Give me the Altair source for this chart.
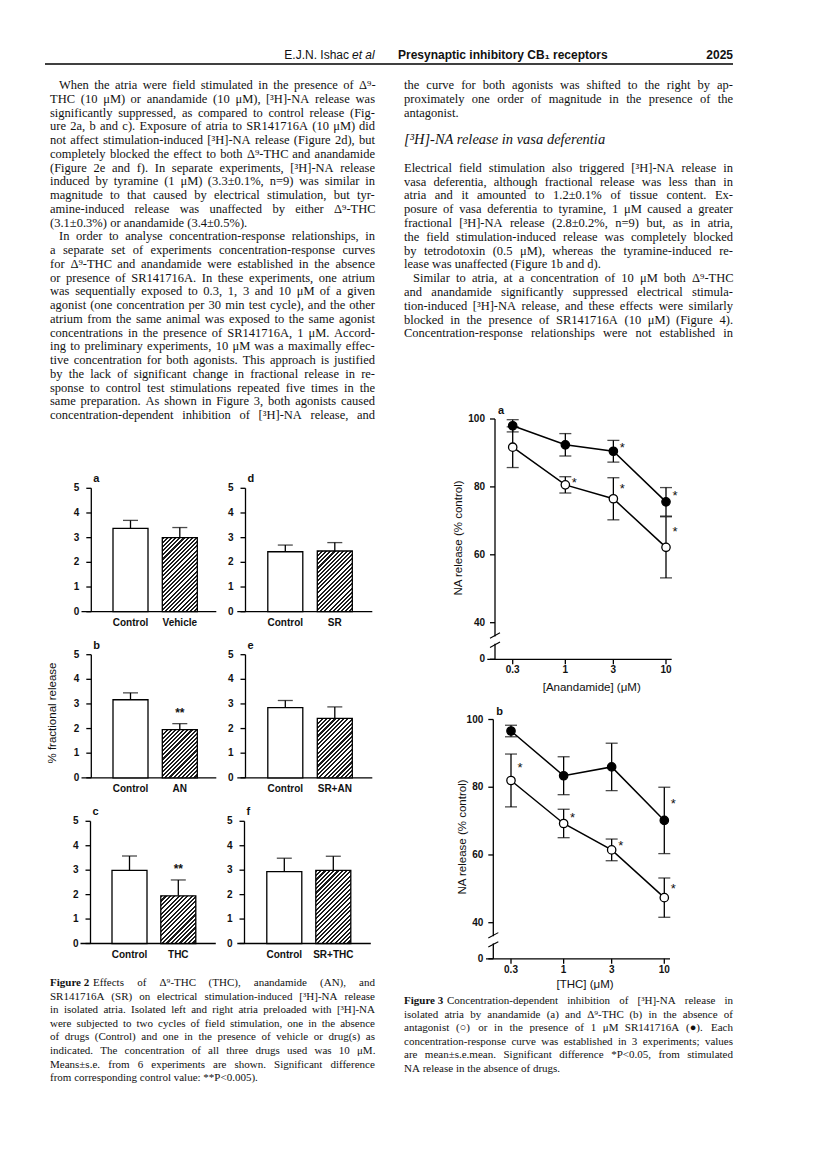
import altair as alt
import numpy as np
import pandas as pd

# ---------------- Figure 2 data (% fractional release, mean, s.e.) ----------------
fig2_a_labels = ["Control", "Vehicle"]
fig2_a_means = [3.38, 3.00]
fig2_a_sems = [0.32, 0.41]
fig2_a_marks = ["", ""]

fig2_b_labels = ["Control", "AN"]
fig2_b_means = [3.17, 1.96]
fig2_b_sems = [0.28, 0.24]
fig2_b_marks = ["", "**"]

fig2_c_labels = ["Control", "THC"]
fig2_c_means = [2.99, 1.95]
fig2_c_sems = [0.59, 0.65]
fig2_c_marks = ["", "**"]

fig2_d_labels = ["Control", "SR"]
fig2_d_means = [2.43, 2.46]
fig2_d_sems = [0.27, 0.34]
fig2_d_marks = ["", ""]

fig2_e_labels = ["Control", "SR+AN"]
fig2_e_means = [2.85, 2.41]
fig2_e_sems = [0.29, 0.47]
fig2_e_marks = ["", ""]

fig2_f_labels = ["Control", "SR+THC"]
fig2_f_means = [2.94, 2.99]
fig2_f_sems = [0.55, 0.58]
fig2_f_marks = ["", ""]

fig2_ticks = [0, 1, 2, 3, 4, 5]

# ---------------- Figure 3 data (NA release, % control) ----------------
fig3_conc = [0.3, 1, 3, 10]
fig3_conc_ticks = [0.3, 1, 3, 10]
fig3_conc_labels = ["0.3", "1", "3", "10"]
fig3_y_ticks = [0, 40, 60, 80, 100]

fig3a_open = [91.7, 80.6, 76.5, 62.2]
fig3a_open_sem = [6.0, 2.4, 6.2, 9.0]
fig3a_open_sig = [False, True, True, True]
fig3a_filled = [98.0, 92.4, 90.5, 75.6]
fig3a_filled_sem = [1.8, 3.3, 3.2, 4.2]
fig3a_filled_sig = [False, False, True, True]

fig3b_open = [82.0, 69.3, 61.5, 47.4]
fig3b_open_sem = [7.8, 4.2, 3.2, 5.8]
fig3b_open_sig = [True, True, True, True]
fig3b_filled = [96.6, 83.4, 86.0, 70.2]
fig3b_filled_sem = [1.7, 5.6, 7.0, 9.8]
fig3b_filled_sig = [False, False, False, True]

# ---------------- page text ----------------
header_left = "E.J.N. Ishac"
header_left_it = "et al"
header_mid = "Presynaptic inhibitory CB\u2081 receptors"
header_right = "2025"

left_text = [
    "When the atria were field stimulated in the presence of \u0394\u2079-",
    "THC (10 \u03bcM) or anandamide (10 \u03bcM), [\u00b3H]-NA release was",
    "significantly suppressed, as compared to control release (Fig-",
    "ure 2a, b and c). Exposure of atria to SR141716A (10 \u03bcM) did",
    "not affect stimulation-induced [\u00b3H]-NA release (Figure 2d), but",
    "completely blocked the effect to both \u0394\u2079-THC and anandamide",
    "(Figure 2e and f). In separate experiments, [\u00b3H]-NA release",
    "induced by tyramine (1 \u03bcM) (3.3\u00b10.1%, n=9) was similar in",
    "magnitude to that caused by electrical stimulation, but tyr-",
    "amine-induced release was unaffected by either \u0394\u2079-THC",
    "(3.1\u00b10.3%) or anandamide (3.4\u00b10.5%).",
    "In order to analyse concentration-response relationships, in",
    "a separate set of experiments concentration-response curves",
    "for \u0394\u2079-THC and anandamide were established in the absence",
    "or presence of SR141716A. In these experiments, one atrium",
    "was sequentially exposed to 0.3, 1, 3 and 10 \u03bcM of a given",
    "agonist (one concentration per 30 min test cycle), and the other",
    "atrium from the same animal was exposed to the same agonist",
    "concentrations in the presence of SR141716A, 1 \u03bcM. Accord-",
    "ing to preliminary experiments, 10 \u03bcM was a maximally effec-",
    "tive concentration for both agonists. This approach is justified",
    "by the lack of significant change in fractional release in re-",
    "sponse to control test stimulations repeated five times in the",
    "same preparation. As shown in Figure 3, both agonists caused",
    "concentration-dependent inhibition of [\u00b3H]-NA release, and",
]
left_indent_lines = [0, 11]
left_last_lines = [10]

right_text_top = [
    "the curve for both agonists was shifted to the right by ap-",
    "proximately one order of magnitude in the presence of the",
    "antagonist.",
]
right_top_last_lines = [2]
right_heading = "[\u00b3H]-NA release in vasa deferentia"
right_text = [
    "Electrical field stimulation also triggered [\u00b3H]-NA release in",
    "vasa deferentia, although fractional release was less than in",
    "atria and it amounted to 1.2\u00b10.1% of tissue content. Ex-",
    "posure of vasa deferentia to tyramine, 1 \u03bcM caused a greater",
    "fractional [\u00b3H]-NA release (2.8\u00b10.2%, n=9) but, as in atria,",
    "the field stimulation-induced release was completely blocked",
    "by tetrodotoxin (0.5 \u03bcM), whereas the tyramine-induced re-",
    "lease was unaffected (Figure 1b and d).",
    "Similar to atria, at a concentration of 10 \u03bcM both \u0394\u2079-THC",
    "and anandamide significantly suppressed electrical stimula-",
    "tion-induced [\u00b3H]-NA release, and these effects were similarly",
    "blocked in the presence of SR141716A (10 \u03bcM) (Figure 4).",
    "Concentration-response relationships were not established in",
]
right_indent_lines = [8]
right_last_lines = [7]

fig2_caption_label = "Figure 2"
fig2_caption = [
    "Effects of \u0394\u2079-THC (THC), anandamide (AN), and",
    "SR141716A (SR) on electrical stimulation-induced [\u00b3H]-NA release",
    "in isolated atria. Isolated left and right atria preloaded with [\u00b3H]-NA",
    "were subjected to two cycles of field stimulation, one in the absence",
    "of drugs (Control) and one in the presence of vehicle or drug(s) as",
    "indicated. The concentration of all three drugs used was 10 \u03bcM.",
    "Means\u00b1s.e. from 6 experiments are shown. Significant difference",
    "from corresponding control value: **P<0.005).",
]
fig3_caption_label = "Figure 3"
fig3_caption = [
    "Concentration-dependent inhibition of [\u00b3H]-NA release in",
    "isolated atria by anandamide (a) and \u0394\u2079-THC (b) in the absence of",
    "antagonist (\u25cb) or in the presence of 1 \u03bcM SR141716A (\u25cf). Each",
    "concentration-response curve was established in 3 experiments; values",
    "are mean\u00b1s.e.mean. Significant difference *P<0.05, from stimulated",
    "NA release in the absence of drugs.",
]
fig2_ytitle = "% fractional release"
fig3_ytitle = "NA release (% control)"
fig3a_xtitle = "[Anandamide] (\u03bcM)"
fig3b_xtitle = "[THC] (\u03bcM)"

# ---------------- layout / style ----------------
W, H = 800, 1141
M = 8
SERIF = "Liberation Serif, Times New Roman, serif"
SANS = "Liberation Sans, Arial, sans-serif"
NARROW = "Liberation Sans Narrow, Liberation Sans, Arial, sans-serif"
INK = "#111111"
LW = 1.3
BAR_W = 35

# Times / Liberation Serif advance widths (per 1000 em), used to justify text lines
_TW = {" ": 250, "!": 333, '"': 408, "#": 500, "$": 500, "%": 833, "&": 778, "'": 180, "(": 333,
       ")": 333, "*": 500, "+": 564, ",": 250, "-": 333, ".": 250, "/": 278, ":": 278, ";": 278,
       "<": 564, "=": 564, ">": 564, "?": 444, "[": 333, "]": 333,
       "A": 722, "B": 667, "C": 667, "D": 722, "E": 611, "F": 556, "G": 722, "H": 722, "I": 333,
       "J": 389, "K": 722, "L": 611, "M": 889, "N": 722, "O": 722, "P": 556, "Q": 722, "R": 667,
       "S": 556, "T": 611, "U": 722, "V": 722, "W": 944, "X": 722, "Y": 722, "Z": 611,
       "a": 444, "b": 500, "c": 444, "d": 500, "e": 444, "f": 333, "g": 500, "h": 500, "i": 278,
       "j": 278, "k": 500, "l": 278, "m": 778, "n": 500, "o": 500, "p": 500, "q": 500, "r": 333,
       "s": 389, "t": 278, "u": 500, "v": 500, "w": 722, "x": 500, "y": 500, "z": 444,
       "\u0394": 612, "\u03bc": 500, "\u00b1": 564, "\u00b3": 300, "\u2079": 330,
       "\u25cb": 750, "\u25cf": 750}
for _d in "0123456789":
    _TW[_d] = 500


def px(v):
    return v - M


def tw(s, size):
    return sum(_TW.get(ch, 500) for ch in s) * size / 1000.0


def justified_rows(lines, x0, x1, y0, dy, size, indent_lines=(), indent=9, last_lines=(),
                   first_offset=0.0):
    rows = []
    for i, line in enumerate(lines):
        start = x0 + (indent if i in indent_lines else 0) + (first_offset if i == 0 else 0)
        words = line.split(" ")
        widths = [tw(w, size) for w in words]
        space = tw(" ", size)
        if i in last_lines or i == len(lines) - 1 and last_lines == "all_but_last" or len(words) == 1:
            gap = space
        else:
            gap = (x1 - start - sum(widths)) / (len(words) - 1)
            gap = max(gap, 0.6 * space)
        x = start
        for w, wd in zip(words, widths):
            rows.append((px(x), px(y0 + i * dy), w))
            x += wd + gap
    return rows


def text_layer(rows, **kw):
    df = pd.DataFrame(rows, columns=["x", "y", "t"])
    base = dict(baseline="middle", color=INK)
    base.update(kw)
    return alt.Chart(df).mark_text(**base).encode(
        x=alt.X("x:Q", scale=None),
        y=alt.Y("y:Q", scale=None),
        text="t:N",
    )


def hatch(w, h, period=3.0, frac=0.5, dark="#1c1c1c", light="#ffffff"):
    k = (w + h) / (w * w + h * h)
    n = max(1, int(round((w + h) / (period * np.sqrt(2)))))
    stops = []
    for i in range(n):
        s, m, e = i / n, (i + frac) / n, (i + 1) / n
        stops += [
            alt.GradientStop(color=dark, offset=s),
            alt.GradientStop(color=dark, offset=m),
            alt.GradientStop(color=light, offset=m),
            alt.GradientStop(color=light, offset=e),
        ]
    return alt.LinearGradient(gradient="linear", stops=stops, x1=0, y1=0, x2=k * w, y2=k * h)


def bar_panel(letter, labels, means, sems, marks, ax_x, x_lo, x_hi, c1, c2, y_top, y_bot):
    df = pd.DataFrame({
        "cat": labels,
        "val": means,
        "top": [m + s for m, s in zip(means, sems)],
        "mark": marks,
    })
    step = c2 - c1
    span = x_hi - x_lo
    outer = span - 2 * step
    xs = alt.Scale(domain=labels, range=[px(x_lo), px(x_hi)], paddingInner=0,
                   paddingOuter=outer / (2 * step), align=(c1 - step / 2 - x_lo) / outer)
    ys = alt.Scale(domain=[0, 5], range=[px(y_bot), px(y_top)], nice=False, zero=False)
    XC = alt.X("cat:N", scale=xs, axis=None)
    base = alt.Chart(df)

    ticks_df = pd.DataFrame({"tick": fig2_ticks, "lab": [str(t) for t in fig2_ticks]})
    axis_df = pd.DataFrame({"lo": [fig2_ticks[0]], "hi": [fig2_ticks[-1]]})
    y_dom = alt.Chart(axis_df).mark_rule(color="black", strokeWidth=LW).encode(
        x=alt.value(px(ax_x)), y=alt.Y("lo:Q", scale=ys, axis=None), y2="hi:Q")
    x_dom = alt.Chart(axis_df).mark_rule(color="black", strokeWidth=LW).encode(
        x=alt.value(px(x_lo)), x2=alt.value(px(x_hi)), y=alt.Y("lo:Q", scale=ys, axis=None))
    y_tk = alt.Chart(ticks_df).mark_rule(color="black", strokeWidth=LW).encode(
        x=alt.value(px(ax_x) - 5), x2=alt.value(px(ax_x)), y=alt.Y("tick:Q", scale=ys, axis=None))
    y_lab = alt.Chart(ticks_df).mark_text(font=SANS, fontSize=10, fontWeight="bold", color=INK,
                                          align="right", baseline="middle").encode(
        x=alt.value(px(ax_x) - 12), y=alt.Y("tick:Q", scale=ys, axis=None), text="lab:N")
    x_lab = base.mark_text(font=SANS, fontSize=10, fontWeight="bold", color=INK,
                           align="center", baseline="middle").encode(
        x=XC, y=alt.value(px(y_bot) + 11), text="cat:N")

    ctrl = base.transform_filter(alt.datum.cat == labels[0]).mark_bar(
        width=BAR_W, fill="white", stroke="black", strokeWidth=LW
    ).encode(x=XC, y=alt.Y("val:Q", scale=ys, axis=None))
    h_px = means[1] * (y_bot - y_top) / 5.0
    drug = base.transform_filter(alt.datum.cat == labels[1]).mark_bar(
        width=BAR_W, fill=hatch(BAR_W, h_px), stroke="black", strokeWidth=LW
    ).encode(x=XC, y=alt.Y("val:Q", scale=ys, axis=None))
    err = base.mark_rule(color="black", strokeWidth=LW).encode(
        x=XC, y=alt.Y("val:Q", scale=ys, axis=None), y2="top:Q")
    cap = base.mark_tick(orient="horizontal", size=15, thickness=LW, color="black").encode(
        x=XC, y=alt.Y("top:Q", scale=ys, axis=None))
    star = base.mark_text(font=SANS, fontSize=12, fontWeight="bold", color=INK, dy=-11,
                          baseline="middle").encode(
        x=XC, y=alt.Y("top:Q", scale=ys, axis=None), text="mark:N")
    lab = alt.Chart(pd.DataFrame({"t": [letter]})).mark_text(
        font=SANS, fontSize=11, fontWeight="bold", color=INK, align="left", baseline="middle"
    ).encode(x=alt.value(px(ax_x + 2)), y=alt.value(px(y_top - 9)), text="t:N")
    return alt.layer(y_dom, x_dom, y_tk, y_lab, x_lab, err, cap, ctrl, drug, star, lab)


def dose_panel(letter, opn, opn_sem, opn_sig, fil, fil_sem, fil_sig,
               ax_x, x_lo, x03, x10, x_hi, y0, y40, y100):
    rows = []
    for s, m, e, g in (("open", opn, opn_sem, opn_sig), ("filled", fil, fil_sem, fil_sig)):
        for c, mm, ee, gg in zip(fig3_conc, m, e, g):
            rows.append({"conc": c, "val": mm, "lo": mm - ee, "hi": mm + ee, "series": s,
                         "star": "*" if gg else "", "sy": mm + 0.6 * ee})
    df = pd.DataFrame(rows)
    dec = (x10 - x03) / (1 - np.log10(0.3))
    d0 = 10 ** (np.log10(0.3) - (x03 - x_lo) / dec)
    d1 = 10 ** (1 + (x_hi - x10) / dec)
    xs = alt.Scale(type="log", domain=[d0, d1], range=[px(x_lo), px(x_hi)], nice=False)
    ys = alt.Scale(domain=[0, 40, 100], range=[px(y0), px(y40), px(y100)], nice=False, zero=False)
    X = alt.X("conc:Q", scale=xs, axis=None)
    base = alt.Chart(df)

    yt_df = pd.DataFrame({"tick": fig3_y_ticks, "lab": [str(t) for t in fig3_y_ticks]})
    xt_df = pd.DataFrame({"tick": fig3_conc_ticks, "lab": fig3_conc_labels})
    axis_df = pd.DataFrame({"lo": [fig3_y_ticks[0]], "hi": [fig3_y_ticks[-1]]})
    y_dom = alt.Chart(axis_df).mark_rule(color="black", strokeWidth=LW).encode(
        x=alt.value(px(ax_x)), y=alt.Y("lo:Q", scale=ys, axis=None), y2="hi:Q")
    x_dom = alt.Chart(axis_df).mark_rule(color="black", strokeWidth=LW).encode(
        x=alt.value(px(x_lo)), x2=alt.value(px(x_hi)), y=alt.Y("lo:Q", scale=ys, axis=None))
    y_tk = alt.Chart(yt_df).mark_rule(color="black", strokeWidth=LW).encode(
        x=alt.value(px(ax_x) - 5), x2=alt.value(px(ax_x)), y=alt.Y("tick:Q", scale=ys, axis=None))
    y_lab = alt.Chart(yt_df).mark_text(font=SANS, fontSize=10, fontWeight="bold", color=INK,
                                       align="right", baseline="middle").encode(
        x=alt.value(px(ax_x) - 10), y=alt.Y("tick:Q", scale=ys, axis=None), text="lab:N")
    x_tk = alt.Chart(xt_df).mark_rule(color="black", strokeWidth=LW).encode(
        x=alt.X("tick:Q", scale=xs, axis=None), y=alt.value(px(y0)), y2=alt.value(px(y0) + 5))
    x_lab = alt.Chart(xt_df).mark_text(font=SANS, fontSize=10, fontWeight="bold", color=INK,
                                       align="center", baseline="middle").encode(
        x=alt.X("tick:Q", scale=xs, axis=None), y=alt.value(px(y0) + 11), text="lab:N")

    line = base.mark_line(color="black", strokeWidth=1.5).encode(
        x=X, y=alt.Y("val:Q", scale=ys, axis=None), detail="series:N")
    err = base.mark_rule(color="black", strokeWidth=LW).encode(
        x=X, y=alt.Y("lo:Q", scale=ys, axis=None), y2="hi:Q")
    cap_hi = base.mark_tick(orient="horizontal", size=12, thickness=LW, color="black").encode(
        x=X, y=alt.Y("hi:Q", scale=ys, axis=None))
    cap_lo = base.mark_tick(orient="horizontal", size=12, thickness=LW, color="black").encode(
        x=X, y=alt.Y("lo:Q", scale=ys, axis=None))
    pts = base.mark_point(shape="circle", filled=True, size=70, stroke="black",
                          strokeWidth=1.3, opacity=1).encode(
        x=X, y=alt.Y("val:Q", scale=ys, axis=None),
        fill=alt.Fill("series:N", scale=alt.Scale(domain=["open", "filled"], range=["white", "black"]),
                      legend=None))
    star = base.mark_text(font=SANS, fontSize=13, color=INK, dx=9, dy=3, baseline="middle").encode(
        x=X, y=alt.Y("sy:Q", scale=ys, axis=None), text="star:N")
    brk = pd.DataFrame({"g0": [17.0], "g1": [25.0], "s0a": [13.0], "s0b": [19.0],
                        "s1a": [23.0], "s1b": [29.0]})
    gap = alt.Chart(brk).mark_rect(fill="white").encode(
        x=alt.value(px(ax_x) - 3), x2=alt.value(px(ax_x) + 3),
        y=alt.Y("g0:Q", scale=ys, axis=None), y2="g1:Q")
    sl1 = alt.Chart(brk).mark_rule(color="black", strokeWidth=1.1).encode(
        x=alt.value(px(ax_x) - 5), x2=alt.value(px(ax_x) + 5),
        y=alt.Y("s0a:Q", scale=ys, axis=None), y2="s0b:Q")
    sl2 = alt.Chart(brk).mark_rule(color="black", strokeWidth=1.1).encode(
        x=alt.value(px(ax_x) - 5), x2=alt.value(px(ax_x) + 5),
        y=alt.Y("s1a:Q", scale=ys, axis=None), y2="s1b:Q")
    lab = alt.Chart(pd.DataFrame({"t": [letter]})).mark_text(
        font=SANS, fontSize=11, fontWeight="bold", color=INK, align="left", baseline="middle"
    ).encode(x=alt.value(px(ax_x + 3)), y=alt.value(px(y100 - 8)), text="t:N")
    return alt.layer(y_dom, x_dom, y_tk, y_lab, x_tk, x_lab, line, err, cap_hi, cap_lo, pts,
                     star, gap, sl1, sl2, lab)


# ---------------- Figure 2 panels ----------------
L_AX, R_AX = 91.3, 245.5
L_LO, L_HI, L_C1, L_C2 = 81.5, 216.3, 130.5, 179.8
R_LO, R_HI, R_C1, R_C2 = 237.3, 372.3, 285.3, 334.8
ROWS = [(488.3, 611.7), (654.7, 777.8), (821.3, 943.5)]

panels = [
    bar_panel("a", fig2_a_labels, fig2_a_means, fig2_a_sems, fig2_a_marks, L_AX, L_LO, L_HI, L_C1, L_C2, *ROWS[0]),
    bar_panel("b", fig2_b_labels, fig2_b_means, fig2_b_sems, fig2_b_marks, L_AX, L_LO, L_HI, L_C1, L_C2, *ROWS[1]),
    bar_panel("c", fig2_c_labels, fig2_c_means, fig2_c_sems, fig2_c_marks, L_AX - 0.8, L_LO - 1, L_HI - 0.5, L_C1 - 1, L_C2 - 1.5, *ROWS[2]),
    bar_panel("d", fig2_d_labels, fig2_d_means, fig2_d_sems, fig2_d_marks, R_AX, R_LO, R_HI, R_C1, R_C2, *ROWS[0]),
    bar_panel("e", fig2_e_labels, fig2_e_means, fig2_e_sems, fig2_e_marks, R_AX, R_LO, R_HI, R_C1, R_C2, *ROWS[1]),
    bar_panel("f", fig2_f_labels, fig2_f_means, fig2_f_sems, fig2_f_marks, R_AX - 1, R_LO, R_HI - 1.5, R_C1 - 1, R_C2 - 1.5, *ROWS[2]),
    dose_panel("a", fig3a_open, fig3a_open_sem, fig3a_open_sig, fig3a_filled, fig3a_filled_sem,
               fig3a_filled_sig, 495.0, 487.3, 512.7, 666.0, 671.7, 659.3, 622.7, 419.0),
    dose_panel("b", fig3b_open, fig3b_open_sem, fig3b_open_sig, fig3b_filled, fig3b_filled_sem,
               fig3b_filled_sig, 493.3, 486.0, 511.0, 664.3, 670.0, 958.8, 922.7, 719.5),
]

# ---------------- text layers ----------------
LX0, LX1 = 50, 375
RX0, RX1 = 404, 733
BODY = 12.5
L_Y0, L_DY = 85.0, 13.75
R_Y0, R_DY = 85.0, 13.8
R_BODY_Y0 = 167.7

body_rows = []
body_rows += justified_rows(left_text, LX0, LX1, L_Y0, L_DY, BODY, left_indent_lines, 9, left_last_lines)
body_rows += justified_rows(right_text_top, RX0, RX1, R_Y0, R_DY, BODY, (), 9, right_top_last_lines)
body_rows += justified_rows(right_text, RX0, RX1, R_BODY_Y0, R_DY, BODY, right_indent_lines, 9,
                            right_last_lines)
body = text_layer(body_rows, font=SERIF, fontSize=BODY, align="left")

heading = text_layer([(px(RX0), px(140), right_heading)], font=SERIF, fontSize=14.5,
                     fontStyle="italic", align="left")

CAP = 11
C2Y, C3Y, CDY = 983.0, 1001.0, 13.6
cap_rows = []
cap_rows += justified_rows(fig2_caption, LX0, LX1, C2Y, CDY, CAP, (), 0, [len(fig2_caption) - 1],
                           first_offset=tw(fig2_caption_label, CAP) + 6)
cap_rows += justified_rows(fig3_caption, RX0, RX1, C3Y, CDY, CAP, (), 0, [len(fig3_caption) - 1],
                           first_offset=tw(fig3_caption_label, CAP) + 6)
captions = text_layer(cap_rows, font=SERIF, fontSize=CAP, align="left")
cap_labels = text_layer([(px(LX0), px(C2Y), fig2_caption_label), (px(RX0), px(C3Y), fig3_caption_label)],
                        font=SERIF, fontSize=CAP, fontWeight="bold", align="left")

hdr_l = text_layer([(px(349), px(55), header_left)], font=NARROW, fontSize=12, align="right")
hdr_li = text_layer([(px(352), px(55), header_left_it)], font=NARROW, fontSize=12,
                    fontStyle="italic", align="left")
hdr_m = text_layer([(px(398), px(55), header_mid)], font=NARROW, fontSize=12, fontWeight="bold",
                   align="left")
hdr_r = text_layer([(px(733), px(55), header_right)], font=NARROW, fontSize=12, fontWeight="bold",
                   align="right")
hdr_rule = alt.Chart(pd.DataFrame({"a": [0]})).mark_rule(color="black", strokeWidth=1.5).encode(
    x=alt.value(px(45)), x2=alt.value(px(733)), y=alt.value(px(64)))

ytitles = text_layer([(px(52.7), px(713), fig2_ytitle), (px(459.3), px(538), fig3_ytitle),
                      (px(463.3), px(837), fig3_ytitle)],
                     font=SANS, fontSize=11.5, angle=270, align="center")
xtitles = text_layer([(px(591.7), px(688), fig3a_xtitle), (px(585), px(985), fig3b_xtitle)],
                     font=SANS, fontSize=11.5, align="center")

chart = alt.layer(
    hdr_rule, hdr_l, hdr_li, hdr_m, hdr_r, body, heading, captions, cap_labels, ytitles, xtitles,
    *panels
).resolve_scale(x="independent", y="independent").properties(
    width=W, height=H, padding=0, autosize=alt.AutoSizeParams(type="none"), background="white"
).configure_view(stroke=None)

chart.save("out.html", embed_options={"renderer": "svg", "actions": False})
